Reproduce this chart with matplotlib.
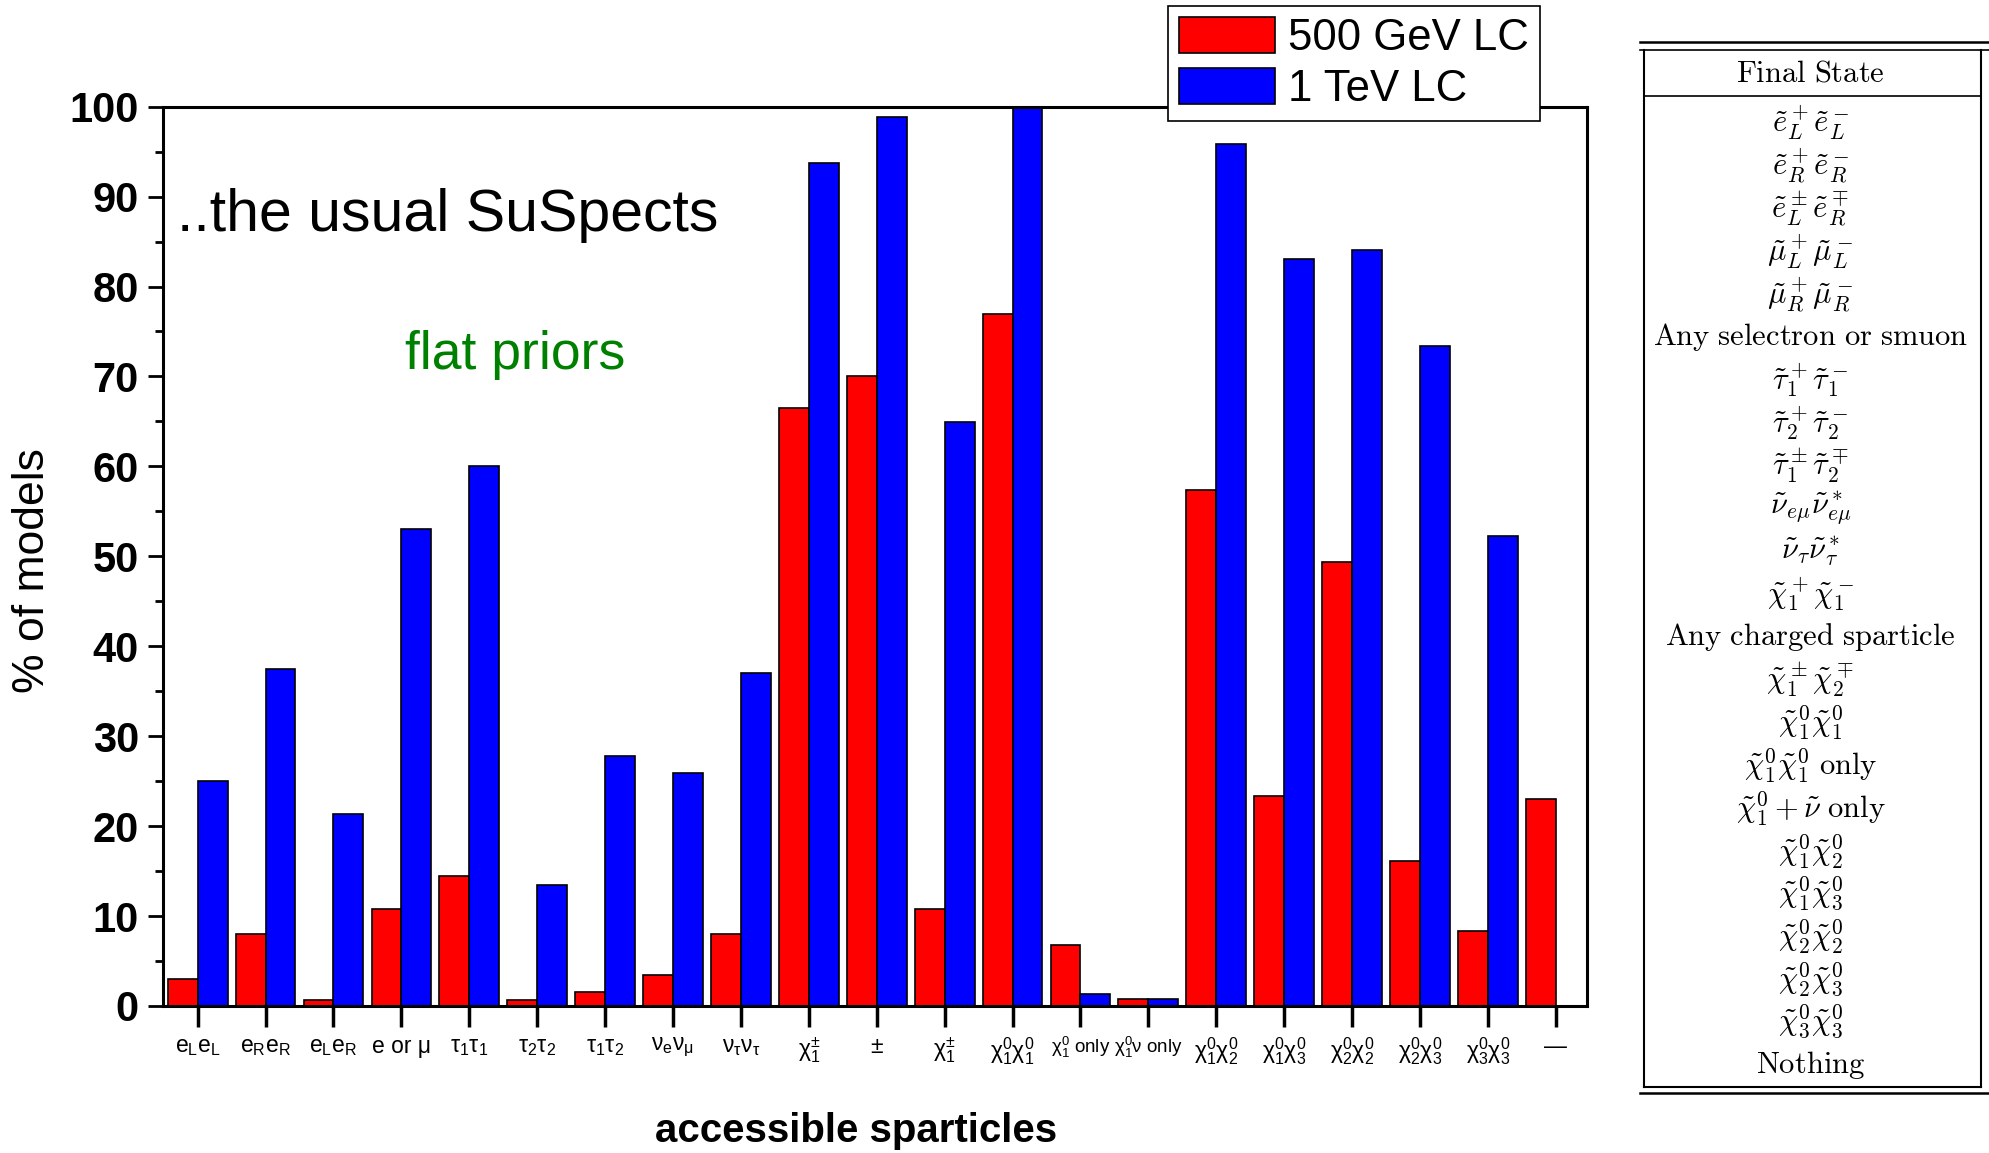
import matplotlib
matplotlib.use("Agg")
import matplotlib.pyplot as plt
from matplotlib.patches import Patch
from matplotlib.ticker import MultipleLocator
import numpy as np

# x categories (accessible sparticles)
categories = [
    "e$_L$e$_L$", "e$_R$e$_R$", "e$_L$e$_R$", "e or μ",
    "τ$_1$τ$_1$", "τ$_2$τ$_2$", "τ$_1$τ$_2$", "ν$_e$ν$_μ$", "ν$_τ$ν$_τ$",
    "χ$_1^±$", "±", "χ$_1^±$", "χ$_1^0$χ$_1^0$", "χ$_1^0$ only",
    "χ$_1^0$ν only", "χ$_1^0$χ$_2^0$", "χ$_1^0$χ$_3^0$", "χ$_2^0$χ$_2^0$",
    "χ$_2^0$χ$_3^0$", "χ$_3^0$χ$_3^0$", "—",
]

# % of models
lc500 = [3.0, 8.0, 0.7, 10.8, 14.5, 0.7, 1.6, 3.4, 8.0, 66.5, 70.1,
         10.8, 77.0, 6.8, 0.8, 57.4, 23.3, 49.4, 16.1, 8.3, 23.0]
lc1000 = [25.0, 37.5, 21.4, 53.0, 60.0, 13.4, 27.8, 25.9, 37.0, 93.7, 98.8,
          64.9, 100.0, 1.3, 0.8, 95.8, 83.1, 84.1, 73.4, 52.3, 0.0]

series_labels = ["500 GeV LC", "1 TeV LC"]

table_header = r"$\mathrm{Final\ State}$"
table_rows = [
    r"$\tilde{e}_L^+\tilde{e}_L^-$",
    r"$\tilde{e}_R^+\tilde{e}_R^-$",
    r"$\tilde{e}_L^\pm\tilde{e}_R^\mp$",
    r"$\tilde{\mu}_L^+\tilde{\mu}_L^-$",
    r"$\tilde{\mu}_R^+\tilde{\mu}_R^-$",
    r"$\mathrm{Any\ selectron\ or\ smuon}$",
    r"$\tilde{\tau}_1^+\tilde{\tau}_1^-$",
    r"$\tilde{\tau}_2^+\tilde{\tau}_2^-$",
    r"$\tilde{\tau}_1^\pm\tilde{\tau}_2^\mp$",
    r"$\tilde{\nu}_{e\mu}\tilde{\nu}_{e\mu}^*$",
    r"$\tilde{\nu}_\tau\tilde{\nu}_\tau^*$",
    r"$\tilde{\chi}_1^+\tilde{\chi}_1^-$",
    r"$\mathrm{Any\ charged\ sparticle}$",
    r"$\tilde{\chi}_1^\pm\tilde{\chi}_2^\mp$",
    r"$\tilde{\chi}_1^0\tilde{\chi}_1^0$",
    r"$\tilde{\chi}_1^0\tilde{\chi}_1^0\ \mathrm{only}$",
    r"$\tilde{\chi}_1^0+\tilde{\nu}\ \mathrm{only}$",
    r"$\tilde{\chi}_1^0\tilde{\chi}_2^0$",
    r"$\tilde{\chi}_1^0\tilde{\chi}_3^0$",
    r"$\tilde{\chi}_2^0\tilde{\chi}_2^0$",
    r"$\tilde{\chi}_2^0\tilde{\chi}_3^0$",
    r"$\tilde{\chi}_3^0\tilde{\chi}_3^0$",
    r"$\mathrm{Nothing}$",
]

plt.rcParams.update({
    "font.family": ["Liberation Sans", "DejaVu Sans"],
    "mathtext.fontset": "custom",
    "mathtext.rm": "Liberation Sans",
    "mathtext.it": "Liberation Sans",
    "mathtext.bf": "Liberation Sans:bold",
})

W, H = 1989, 1153
fig = plt.figure(figsize=(W / 100, H / 100), dpi=100)
ax = fig.add_axes([0.0817, 0.1275, 0.7162, 0.78])

bw = 0.44
x = np.arange(len(categories))
ax.bar(x, lc500, width=-bw, align="edge", color="#ff0000",
       edgecolor="black", linewidth=1.2)
ax.bar(x, lc1000, width=bw, align="edge", color="#0000ff",
       edgecolor="black", linewidth=1.2)

ax.set_xlim(-0.518, 20.46)
ax.set_ylim(0, 100)
ax.set_xticks(x)
ax.set_xticklabels(categories, fontsize=16.5)
# the two long "only" labels are squeezed a little so they do not collide
for lab in ax.get_xticklabels()[13:15]:
    lab.set_fontsize(13.5)
ax.set_yticks(np.arange(0, 101, 10))
ax.yaxis.set_minor_locator(MultipleLocator(5))
ax.tick_params(axis="y", which="major", direction="out", length=11, width=2,
               labelsize=30, pad=6)
ax.tick_params(axis="y", which="minor", direction="out", length=6, width=2)
ax.tick_params(axis="x", direction="out", length=15, width=2.5, pad=6)
plt.setp(ax.get_yticklabels(), fontweight="bold")
for s in ax.spines.values():
    s.set_linewidth(2.2)

ax.set_ylabel("% of models", fontsize=32)
ax.yaxis.set_label_coords(-0.077, 0.484)
ax.set_xlabel("accessible sparticles", fontsize=29, fontweight="bold")
ax.xaxis.set_label_coords(0.487, -0.118)

ax.text(-0.30, 87.9, "..the usual SuSpects", fontsize=42.5, va="center",
        ha="left")
ax.text(3.05, 72.4, "flat priors", fontsize=38.5, color="#008000",
        va="center", ha="left")

handles = [
    Patch(facecolor="#ff0000", edgecolor="black", linewidth=1.2),
    Patch(facecolor="#0000ff", edgecolor="black", linewidth=1.2),
]
leg = fig.legend(handles, series_labels, loc="upper left",
                 bbox_to_anchor=(1168 / W, 1 - 6 / H),
                 bbox_transform=fig.transFigure, fontsize=31.5,
                 fancybox=False, edgecolor="black", framealpha=1,
                 handlelength=2.2, handleheight=0.9, labelspacing=0.2,
                 borderpad=0.25, handletextpad=0.3, borderaxespad=0)
leg.get_frame().set_linewidth(1.2)

# table on the right, drawn in pixel coordinates
tab = fig.add_axes([0, 0, 1, 1])
tab.set_xlim(0, W)
tab.set_ylim(H, 0)
tab.axis("off")
tab.patch.set_alpha(0)

tl, tr = 1644, 1981
tab.plot([1640, W], [42, 42], color="black", lw=1.8)
tab.plot([1640, W], [50, 50], color="black", lw=1.2)
tab.plot([tl, tl], [50, 1087], color="black", lw=1.5)
tab.plot([tr, tr], [50, 1087], color="black", lw=1.5)
tab.plot([tl, tr], [96, 96], color="black", lw=1.2)
tab.plot([tl, tr], [1087, 1087], color="black", lw=1.5)
tab.plot([1640, W], [1093, 1093], color="black", lw=1.8)

cx = (tl + tr) / 2 - 2
tab.text(cx, 73, table_header, fontsize=22, ha="center", va="center",
         math_fontfamily="cm")
row_y0, row_dy = 123, 42.83
for i, r in enumerate(table_rows):
    tab.text(cx, row_y0 + i * row_dy, r, fontsize=22, ha="center",
             va="center", math_fontfamily="cm")

fig.savefig("out.png", dpi=100)
